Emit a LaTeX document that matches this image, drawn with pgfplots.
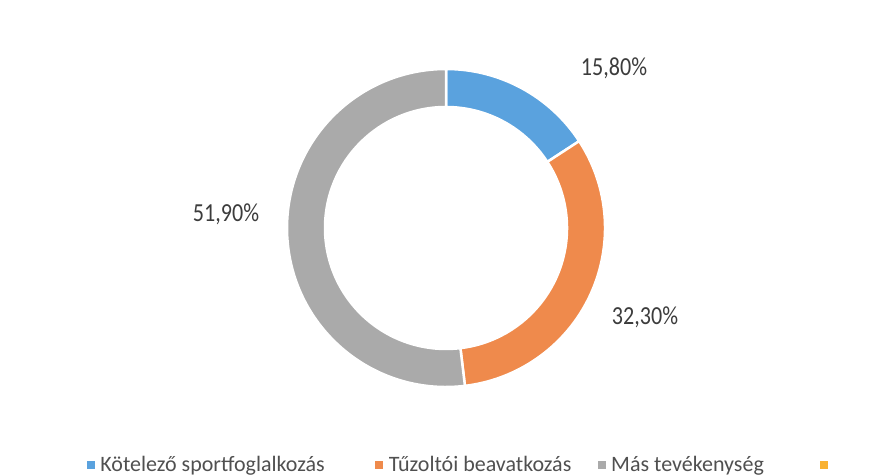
\documentclass[border=0pt]{standalone}
\usepackage{pgfplots}
\usepackage{pgfplotstable}
\pgfplotsset{compat=1.18}
\usetikzlibrary{calc}
\usepackage{fontspec}
\setmainfont{Carlito}
\newfontfamily\labelfont{Carlito}[FakeStretch=0.85]
\definecolor{cblue}{HTML}{5AA2DE}
\definecolor{corange}{HTML}{EF8A4C}
\definecolor{cgray}{HTML}{AAAAAA}
\definecolor{cyellow}{HTML}{F9B233}
\definecolor{textgray}{HTML}{3C3C3C}
\definecolor{legendgray}{HTML}{505050}

\pgfplotstableread{
idx value
0 15.8
1 32.3
2 51.9
}\ringdata

\begin{document}
\begin{tikzpicture}
\pgfplotstablegetelem{0}{value}\of\ringdata \let\va\pgfplotsretval
\pgfplotstablegetelem{1}{value}\of\ringdata \let\vb\pgfplotsretval
\pgfplotstablegetelem{2}{value}\of\ringdata \let\vc\pgfplotsretval
\pgfmathsetmacro\aA{90}
\pgfmathsetmacro\aB{\aA-3.6*\va}
\pgfmathsetmacro\aC{\aB-3.6*\vb}
\pgfmathsetmacro\aD{\aC-3.6*\vc}
\def\Ro{159bp}
\def\Ri{121bp}
\begin{axis}[
  width=875bp, height=476bp, scale only axis,
  xmin=0, xmax=875, ymin=0, ymax=476,
  hide axis, clip=false,
  legend columns=4,
  legend cell align=left,
  legend image code/.code={\fill[#1] (0bp,-3.5bp) rectangle (7bp,3.5bp);},
  legend style={draw=none, fill=none, at={(axis cs:87,3)}, anchor=south west,
    inner sep=0pt, outer sep=0pt,
    font=\fontsize{22bp}{26bp}\selectfont, text=legendgray,
    nodes={inner sep=0pt},
    /tikz/every odd column/.append style={column sep=6bp},
    /tikz/every even column/.append style={column sep=0bp}},
]
\coordinate (ll) at (axis cs:0,0);
\coordinate (ur) at (axis cs:875,476);
\addlegendimage{cblue}
\addlegendentry{\makebox[275bp][l]{Kötelező sportfoglalkozás}}
\addlegendimage{corange}
\addlegendentry{\makebox[209bp][l]{Tűzoltói beavatkozás}}
\addlegendimage{cgray}
\addlegendentry{\makebox[209bp][l]{Más tevékenység}}
\addlegendimage{cyellow}
\addlegendentry{}

\fill[cblue, draw=white, line width=2.5bp] (axis cs:446,248) ++(\aA:\Ro) arc[start angle=\aA, end angle=\aB, radius=\Ro] -- ($(axis cs:446,248)+(\aB:\Ri)$) arc[start angle=\aB, end angle=\aA, radius=\Ri] -- cycle;
\fill[corange, draw=white, line width=2.5bp] (axis cs:446,248) ++(\aB:\Ro) arc[start angle=\aB, end angle=\aC, radius=\Ro] -- ($(axis cs:446,248)+(\aC:\Ri)$) arc[start angle=\aC, end angle=\aB, radius=\Ri] -- cycle;
\fill[cgray, draw=white, line width=2.5bp] (axis cs:446,248) ++(\aC:\Ro) arc[start angle=\aC, end angle=\aD, radius=\Ro] -- ($(axis cs:446,248)+(\aD:\Ri)$) arc[start angle=\aD, end angle=\aC, radius=\Ri] -- cycle;

\node[anchor=base, text=textgray, font=\labelfont\fontsize{26bp}{30bp}\selectfont] at (axis cs:614,400) {15,80\%};
\node[anchor=base, text=textgray, font=\labelfont\fontsize{26bp}{30bp}\selectfont] at (axis cs:645,151) {32,30\%};
\node[anchor=base, text=textgray, font=\labelfont\fontsize{26bp}{30bp}\selectfont] at (axis cs:226,254) {51,90\%};
\end{axis}
\pgfresetboundingbox
\path[use as bounding box] (ll) rectangle (ur);
\end{tikzpicture}
\end{document}
